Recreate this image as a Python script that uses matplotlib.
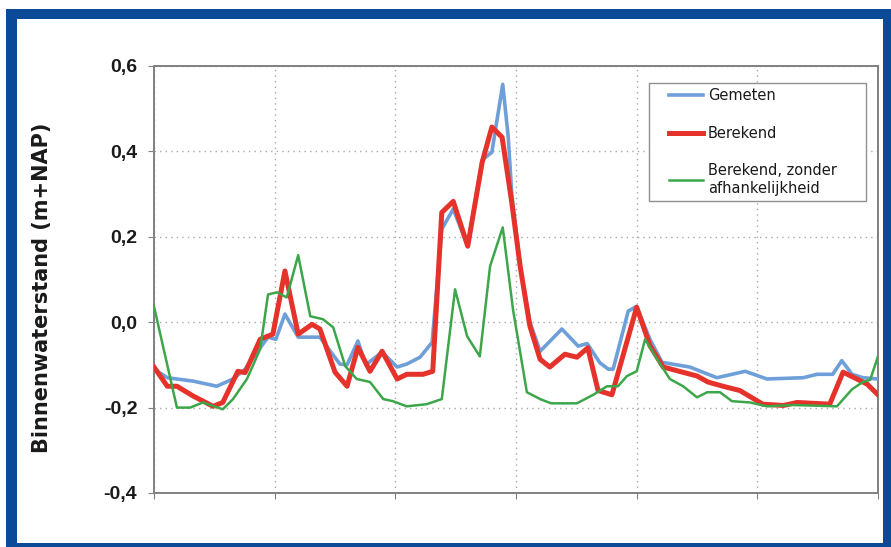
import matplotlib
matplotlib.use("Agg")
import matplotlib.pyplot as plt
from matplotlib.patches import Rectangle
from matplotlib.ticker import FuncFormatter, MultipleLocator

plt.rcParams['font.family'] = ['Liberation Sans', 'DejaVu Sans']

# ---- data (time index in days, water level in m+NAP) ----
gem_x = [0, 2.2, 6.5, 10.4, 13.1, 15.1, 17.6, 18.9, 20.2, 21.7, 23.9, 27.5, 30.8, 32, 33.8, 35.1,
         37.8, 40.3, 41.9, 44.1, 46.1, 47.7, 49.6, 52, 54.4, 56, 57.8, 58.7, 59.3, 60.7, 62.3, 64,
         67.6, 70.3, 71.8, 73.9, 75.3, 76.1, 78.6, 80, 82.2, 84.2, 88.8, 93.3, 98, 101.6, 107.6,
         109.9, 112.5, 114, 115.7, 117.5, 120]
gem_y = [-0.11, -0.13, -0.138, -0.15, -0.133, -0.11, -0.06, -0.035, -0.04, 0.019, -0.035, -0.035,
         -0.098, -0.10, -0.044, -0.10, -0.07, -0.105, -0.098, -0.082, -0.047, 0.218, 0.265, 0.178,
         0.38, 0.398, 0.557, 0.436, 0.30, 0.13, 0.0, -0.068, -0.016, -0.056, -0.05, -0.095, -0.11,
         -0.11, 0.026, 0.037, -0.04, -0.094, -0.105, -0.13, -0.115, -0.133, -0.13, -0.122, -0.122,
         -0.09, -0.122, -0.13, -0.133]

ber_x = [0, 2.2, 3.8, 6.5, 9.8, 11.4, 13.9, 15.1, 17.6, 19.7, 21.7, 23.9, 26.2, 27.5, 30, 32, 33.8,
         35.8, 37.8, 40.3, 41.9, 44.6, 46.2, 47.7, 49.6, 52, 54.4, 56, 57.7, 59.3, 60.7, 62.3, 64,
         65.6, 68.1, 70.1, 71.9, 73.6, 75.9, 80, 82.2, 84.4, 90, 91.8, 94.3, 97.1, 100.9, 104.3,
         106.6, 112, 114.2, 116.5, 118.2, 120]
ber_y = [-0.105, -0.15, -0.15, -0.173, -0.197, -0.188, -0.115, -0.118, -0.04, -0.028, 0.12, -0.028,
         -0.005, -0.016, -0.117, -0.15, -0.059, -0.115, -0.068, -0.133, -0.122, -0.122, -0.115,
         0.257, 0.283, 0.178, 0.375, 0.457, 0.433, 0.28, 0.13, -0.009, -0.087, -0.105, -0.075,
         -0.082, -0.06, -0.16, -0.17, 0.035, -0.055, -0.105, -0.126, -0.14, -0.15, -0.16, -0.192,
         -0.195, -0.188, -0.192, -0.117, -0.133, -0.145, -0.17]

zon_x = [0, 3.8, 6, 8.1, 11.4, 13.1, 15.4, 17.6, 18.9, 20.4, 22, 23.9, 25.9, 28, 29.7, 31.7, 33.6,
         35.8, 38, 39.6, 41.9, 45.2, 47.7, 49.9, 51.9, 54, 55.7, 57.8, 59.5, 61.8, 64, 65.8, 70.1,
         72.8, 75.1, 76.9, 78.4, 80, 81.4, 83.4, 85.5, 87.7, 90, 91.7, 93.8, 95.8, 98.8, 101.6,
         105.9, 113.2, 115.7, 117.5, 118.7, 120]
zon_y = [0.037, -0.2, -0.2, -0.188, -0.204, -0.18, -0.133, -0.063, 0.065, 0.07, 0.058, 0.157, 0.014,
         0.007, -0.012, -0.103, -0.133, -0.14, -0.18, -0.185, -0.197, -0.192, -0.18, 0.077, -0.033,
         -0.08, 0.131, 0.222, 0.03, -0.164, -0.18, -0.19, -0.19, -0.17, -0.15, -0.15, -0.126,
         -0.115, -0.04, -0.087, -0.133, -0.15, -0.176, -0.164, -0.164, -0.185, -0.188, -0.197,
         -0.194, -0.197, -0.157, -0.14, -0.135, -0.08]

labels = ["Gemeten", "Berekend", "Berekend, zonder\nafhankelijkheid"]
ylabel = "Binnenwaterstand (m+NAP)"

# ---- figure ----
W, H = 891, 547
fig = plt.figure(figsize=(W / 100, H / 100), dpi=100)
fig.patch.set_facecolor("white")

# blue frame
blue = "#0B4A97"
fig.add_artist(Rectangle((6 / W, 0), 1 - 6 / W, 1 - 9 / H, transform=fig.transFigure,
                         facecolor=blue, edgecolor="none", zorder=-10))
fig.add_artist(Rectangle((17 / W, 1 - 543 / H), (883 - 17) / W, (543 - 19) / H,
                         transform=fig.transFigure, facecolor="white", edgecolor="none", zorder=-9))

AX_L, AX_R, AX_T, AX_B = 154, 878, 66, 493
ax = fig.add_axes([AX_L / W, 1 - AX_B / H, (AX_R - AX_L) / W, (AX_B - AX_T) / H])
ax.set_zorder(5)
ax.set_facecolor("none")

def axfrac(px, py):
    return (px - AX_L) / (AX_R - AX_L), (AX_B - py) / (AX_B - AX_T)

l1, = ax.plot(gem_x, gem_y, color="#6E9FD8", lw=2.6, zorder=3, solid_joinstyle="round")
l2, = ax.plot(ber_x, ber_y, color="#E5322A", lw=3.6, zorder=4, solid_joinstyle="round")
l3, = ax.plot(zon_x, zon_y, color="#3DA64A", lw=1.8, zorder=5, solid_joinstyle="round")

ax.set_xlim(0, 120)
ax.set_ylim(-0.4, 0.6)
ax.xaxis.set_major_locator(MultipleLocator(20))
ax.yaxis.set_major_locator(MultipleLocator(0.2))
ax.set_xticklabels([])
ax.yaxis.set_major_formatter(FuncFormatter(lambda v, p: ("%.1f" % v).replace(".", ",").replace("-0,0", "0,0")))
ax.tick_params(axis="y", labelsize=14, length=4, color="#808080", labelcolor="#1a1a1a", pad=8)
ax.tick_params(axis="x", length=4, color="#808080")
for lab in ax.get_yticklabels():
    lab.set_fontweight("bold")

ax.grid(True, color="#A8A8A8", linestyle=(0, (1, 3)), lw=1.0)
for s in ax.spines.values():
    s.set_color("#808080")
    s.set_linewidth(1.4)

ax.set_ylabel(ylabel, fontsize=15, fontweight="bold", color="#1a1a1a",
              family=["DejaVu Sans"])
ax.yaxis.set_label_coords(*axfrac(52, 287.5))

# legend box (drawn separately) and legend content
bx0, by0 = axfrac(649, 201)
bx1, by1 = axfrac(866, 83)
ax.add_patch(Rectangle((bx0, by0), bx1 - bx0, by1 - by0, transform=ax.transAxes,
                       facecolor="white", edgecolor="#909090", lw=1.0, zorder=10))
leg = ax.legend([l1, l2, l3], labels, loc="upper left", bbox_to_anchor=axfrac(669, 88),
                prop={"family": "DejaVu Sans", "size": 10.5}, frameon=False,
                handlelength=2.3, handletextpad=0.35, labelspacing=1.55, borderpad=0,
                borderaxespad=0)
leg.set_zorder(11)
for t in leg.get_texts():
    t.set_color("#1a1a1a")

fig.savefig("out.png", dpi=100, facecolor=fig.get_facecolor())
